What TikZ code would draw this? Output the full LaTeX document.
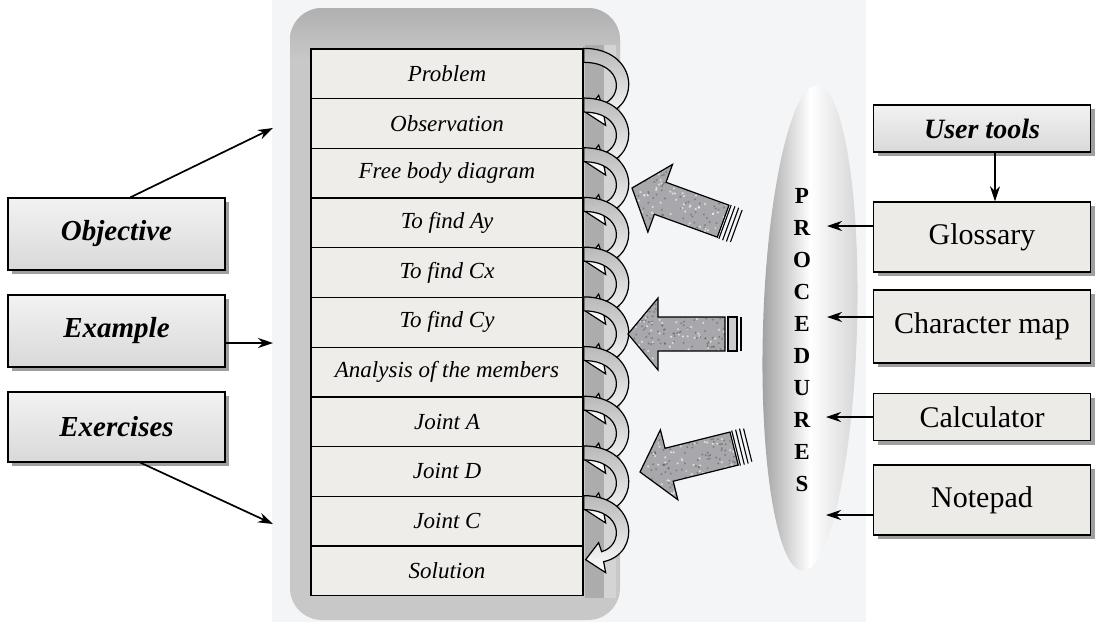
\documentclass[tikz,border=0pt]{standalone}
\usepackage{fontspec}
\setmainfont{Liberation Serif}
\usetikzlibrary{shadows,calc,arrows.meta,shapes.geometric}

\definecolor{backzone}{RGB}{243,245,247}
\definecolor{panelgray}{RGB}{200,200,200}
\definecolor{paneldark}{RGB}{172,172,172}
\definecolor{panellight}{RGB}{212,212,212}
\definecolor{rowfill}{RGB}{238,237,234}
\definecolor{toolfill}{RGB}{236,235,232}
\definecolor{arrowgray}{RGB}{168,168,172}

\tikzset{
  rowbox/.style={draw, line width=1.3pt, fill=rowfill, minimum width=272pt,
    minimum height=49.7pt, inner sep=0pt,
    font=\itshape\fontsize{23}{23}\selectfont},
  marblebox/.style={draw, line width=1.4pt, top color=gray!10, bottom color=gray!30,
    minimum width=217pt, inner sep=0pt,
    drop shadow={shadow xshift=4pt, shadow yshift=-4pt, fill=gray!75, opacity=1},
    font=\bfseries\itshape\fontsize{29}{29}\selectfont},
  toolbox/.style={draw, line width=1.4pt, fill=toolfill, minimum width=217pt, inner sep=0pt,
    drop shadow={shadow xshift=4pt, shadow yshift=-4pt, fill=gray!75, opacity=1},
    font=\fontsize{30}{30}\selectfont},
  arr/.style={line width=1.7pt, -{Stealth[length=15pt,width=10pt]}},
  curl/.style={draw, line width=1.2pt, top color=gray!55, bottom color=white},
  blockarrow/.pic={
    \path[fill=arrowgray]
      (0,0) -- (30,-36) -- (30,-17) -- (97,-17) -- (97,17) -- (30,17) -- (30,36) -- cycle;
    \begin{scope}
      \clip (0,0) -- (30,-36) -- (30,-17) -- (97,-17) -- (97,17) -- (30,17) -- (30,36) -- cycle;
      \foreach \k in {1,...,160} {
        \pgfmathsetmacro\px{rnd*100}
        \pgfmathsetmacro\py{rnd*74-37}
        \fill[black!70, opacity=0.45] (\px,\py) circle (1.1pt);
      }
      \foreach \k in {1,...,90} {
        \pgfmathsetmacro\px{rnd*100}
        \pgfmathsetmacro\py{rnd*74-37}
        \fill[white, opacity=0.6] (\px,\py) circle (1.2pt);
      }
    \end{scope}
    \draw[line width=1.2pt]
      (0,0) -- (30,-36) -- (30,-17) -- (97,-17) -- (97,17) -- (30,17) -- (30,36) -- cycle;
  },
  stripedtail/.pic={
    \draw[line width=1.1pt] (99,-18) -- (99,18);
    \draw[line width=1.1pt] (103,-18) -- (103,18);
    \draw[line width=1.1pt] (107,-18) -- (107,18);
    \draw[line width=1.1pt] (111,-17) -- (111,17);
  },
  boxedtail/.pic={
    \draw[line width=1.1pt, fill=arrowgray!60] (100,-17) rectangle (109,17);
    \draw[line width=2.6pt] (113,-17) -- (113,17);
  }
}

\begin{document}
\begin{tikzpicture}[x=1pt,y=-1pt]
\pgfmathsetseed{17}
\useasboundingbox (0,0) rectangle (1095,622);
\fill[white] (0,0) rectangle (1095,622);
\fill[backzone] (272,0) rectangle (866,622);

% grey tray behind the list of steps
\fill[panelgray, rounded corners=32pt] (290,8) rectangle (620,620);
\shade[top color=gray!62, bottom color=panelgray]
  (290,60) [rounded corners=32pt] -- (290,8) -- (620,8) [sharp corners] -- (620,60) -- cycle;
\fill[paneldark] (585,45) rectangle (604,598);
\fill[panellight] (604,45) rectangle (616,598);

% the steps
\foreach \i/\t in {1/Problem, 2/Observation, 3/Free body diagram, 4/To find Ay,
  5/To find Cx, 6/To find Cy, 7/Analysis of the members, 8/Joint A,
  9/Joint D, 10/Joint C, 11/Solution}
  \node[rowbox] (r\i) at (447, {49+(\i-0.5)*49.7}) {\t};

% curled arrows leading from each step to the next
\foreach \i in {1,...,10} {
  \begin{scope}[shift={(r\i.north east)}]
    \path[curl] (0,0) .. controls (54,0) and (58,58) .. (20,66)
      -- (22,77) -- (2,64) -- (15,47) -- (18,56)
      .. controls (40,50) and (40,14) .. (0,14) -- cycle;
  \end{scope}
}

% block arrows pointing at the steps
\pic[rotate=-20] at (632,188) {blockarrow};
\pic[rotate=-20] at (632,188) {stripedtail};
\pic at (628,334) {blockarrow};
\pic at (628,334) {boxedtail};
\pic[rotate=14] at (640,472) {blockarrow};
\pic[rotate=14] at (640,472) {stripedtail};

% procedures lens
\node[ellipse, minimum width=94pt, minimum height=486pt, rotate=-1.7, inner sep=0pt,
  left color=gray!78, right color=gray!35, middle color=white] (proc) at (810,328) {};
\node[align=center, font=\bfseries\fontsize{23}{32}\selectfont, inner sep=0pt]
  (proclabel) at (802,340) {P\\R\\O\\C\\E\\D\\U\\R\\E\\S};

% left column
\node[marblebox, minimum height=72pt] (obj) at (116.5,234) {Objective};
\node[marblebox, minimum height=72pt] (exa) at (116.5,331) {Example};
\node[marblebox, minimum height=70pt] (exe) at (116.5,427) {Exercises};

\coordinate (objT) at (273,128);
\coordinate (exaT) at (273,343);
\coordinate (exeT) at (273,524);
\draw[arr] ($(obj.north)+(14,0)$) -- (objT);
\draw[arr] ($(exa.east)+(0,12)$) -- (exaT);
\draw[arr] ($(exe.south)+(24,0)$) -- (exeT);

% right column
\node[marblebox, minimum height=47pt, font=\bfseries\itshape\fontsize{28}{28}\selectfont]
  (ut) at (982,128.5) {User tools};
\node[toolbox, minimum height=70pt] (glo) at (982,237) {Glossary};
\node[toolbox, minimum height=73pt] (chm) at (982,326.5) {Character map};
\node[toolbox, minimum height=47pt] (cal) at (982,417) {Calculator};
\node[toolbox, minimum height=70pt] (ntp) at (982,500) {Notepad};

\draw[arr] ($(ut.south)+(13,0)$) -- ($(glo.north)+(13,0)$);
\draw[arr] ($(glo.west)+(0,-11)$) -- ($(glo.west -| proc.center)+(17,-11)$);
\draw[arr] ($(chm.west)+(0,-9.5)$) -- ($(chm.west -| proc.center)+(17,-9.5)$);
\draw[arr] (cal.west) -- ($(cal.west -| proc.center)+(16,0)$);
\draw[arr] ($(ntp.west)+(0,15)$) -- ($(ntp.west -| proc.center)+(16,15)$);
\end{tikzpicture}
\end{document}
